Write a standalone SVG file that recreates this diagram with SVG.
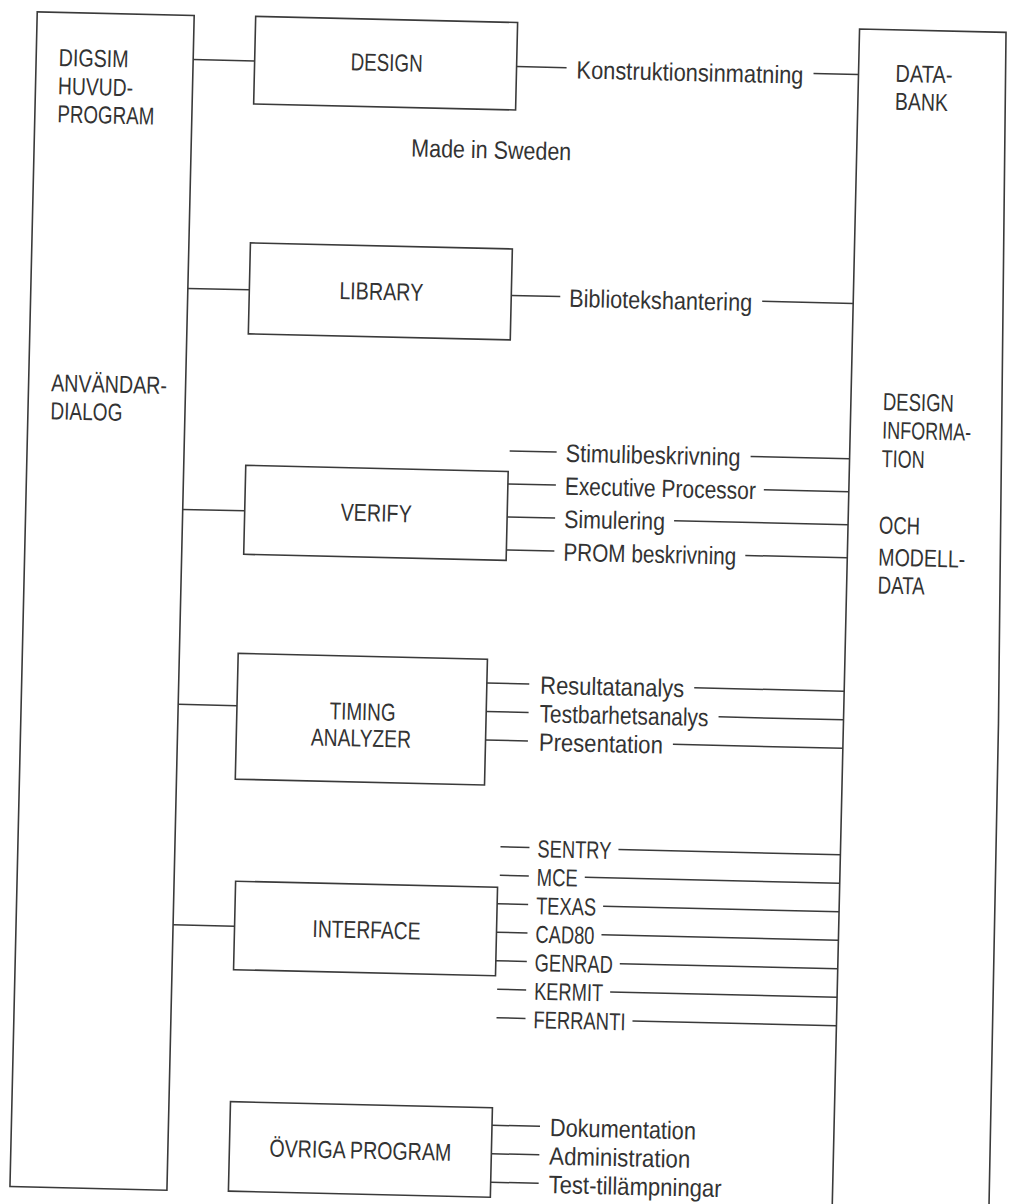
<svg xmlns="http://www.w3.org/2000/svg" width="1010" height="1204" viewBox="0 0 1010 1204">
<style>
.box{fill:none;stroke:#3a3a3a;stroke-width:1.6}
.ln{fill:none;stroke:#3a3a3a;stroke-width:1.5}
.t{font-family:'Liberation Sans Narrow','Liberation Sans',Arial,sans-serif;font-size:25px;fill:#333}
.u{font-size:24.5px}
.c{text-anchor:middle}
</style>
<rect width="1010" height="1204" fill="#fff"/>
<g transform="rotate(1.33)">
<g id="huvudprogram">
<rect class="box" x="37.5" y="11" width="157" height="1175"/>
<text class="t u" x="60" y="64.5" textLength="70" lengthAdjust="spacingAndGlyphs">DIGSIM</text>
<text class="t u" x="60" y="93" textLength="75" lengthAdjust="spacingAndGlyphs">HUVUD-</text>
<text class="t u" x="60" y="121" textLength="97" lengthAdjust="spacingAndGlyphs">PROGRAM</text>
<text class="t u" x="60" y="390" textLength="116" lengthAdjust="spacingAndGlyphs">ANVÄNDAR-</text>
<text class="t u" x="60" y="418" textLength="72" lengthAdjust="spacingAndGlyphs">DIALOG</text>
</g>
<g id="design">
<rect class="box" x="256" y="10.5" width="262" height="87.5"/>
<text class="t u c" x="388" y="62" textLength="72" lengthAdjust="spacingAndGlyphs">DESIGN</text>
</g>
<g id="library">
<rect class="box" x="256" y="237" width="262" height="91"/>
<text class="t u c" x="388" y="291" textLength="84" lengthAdjust="spacingAndGlyphs">LIBRARY</text>
</g>
<g id="verify">
<rect class="box" x="256.5" y="459.5" width="262.5" height="89"/>
<text class="t u c" x="388" y="512.5" textLength="71" lengthAdjust="spacingAndGlyphs">VERIFY</text>
</g>
<g id="timing">
<rect class="box" x="253.3" y="647.7" width="249.3" height="125.8"/>
<text class="t u c" x="379" y="711.5" textLength="66" lengthAdjust="spacingAndGlyphs">TIMING</text>
<text class="t u c" x="378" y="738" textLength="100" lengthAdjust="spacingAndGlyphs">ANALYZER</text>
</g>
<g id="interface">
<rect class="box" x="256" y="875.5" width="262" height="88.5"/>
<text class="t u c" x="388" y="929.5" textLength="108" lengthAdjust="spacingAndGlyphs">INTERFACE</text>
</g>
<g id="ovriga">
<rect class="box" x="256" y="1096" width="262" height="89.5"/>
<text class="t u c" x="387" y="1150" textLength="182" lengthAdjust="spacingAndGlyphs">ÖVRIGA PROGRAM</text>
</g>
<g id="databank">
<polygon class="box" points="860,1260 860,9 1006.5,9 1015,700 1017,1260"/>
<text class="t u" x="897" y="61" textLength="57" lengthAdjust="spacingAndGlyphs">DATA-</text>
<text class="t u" x="897" y="89" textLength="53" lengthAdjust="spacingAndGlyphs">BANK</text>
<text class="t u" x="892" y="389.5" textLength="71" lengthAdjust="spacingAndGlyphs">DESIGN</text>
<text class="t u" x="892" y="418" textLength="89" lengthAdjust="spacingAndGlyphs">INFORMA-</text>
<text class="t u" x="892" y="446.5" textLength="43" lengthAdjust="spacingAndGlyphs">TION</text>
<text class="t u" x="891" y="513" textLength="41" lengthAdjust="spacingAndGlyphs">OCH</text>
<text class="t u" x="891" y="545" textLength="87" lengthAdjust="spacingAndGlyphs">MODELL-</text>
<text class="t u" x="891" y="573" textLength="47" lengthAdjust="spacingAndGlyphs">DATA</text>
</g>
<g id="note">
<text class="t" x="414.6" y="147" textLength="160" lengthAdjust="spacingAndGlyphs">Made in Sweden</text>
</g>
<g id="connectors">
<path class="ln" d="M194.5,55H256 M194.5,284H256 M194.5,505H256.5 M194.5,700H253.3 M194.5,920.5H256"/>
<path class="ln" d="M518,54.5H568 M815,54.5H860"/>
<path class="ln" d="M518,283.5H567 M769,283.5H860"/>
<path class="ln" d="M520,439H567 M761,439H860"/>
<path class="ln" d="M519,472H567 M775,472H860"/>
<path class="ln" d="M519,505H567 M686,505H860"/>
<path class="ln" d="M519,538H567 M758,538H860"/>
<path class="ln" d="M502.6,671.5H545 M710,671.5H860"/>
<path class="ln" d="M502.6,700H545 M735,700H860"/>
<path class="ln" d="M502.6,728.5H545 M690,728.5H860"/>
<path class="ln" d="M520,835H549 M638,835H860"/>
<path class="ln" d="M520,863.5H549 M605,863.5H860"/>
<path class="ln" d="M518,892H549 M624,892H860"/>
<path class="ln" d="M518,920.5H549 M623,920.5H860"/>
<path class="ln" d="M518,949H549 M642,949H860"/>
<path class="ln" d="M520,977.5H549 M633,977.5H860"/>
<path class="ln" d="M520,1006H549 M656,1006H860"/>
<path class="ln" d="M518,1113.5H566 M518,1142H566 M518,1170.5H566"/>
</g>
<g id="labels">
<text class="t" x="578" y="65" textLength="227" lengthAdjust="spacingAndGlyphs">Konstruktionsinmatning</text>
<text class="t" x="576" y="293.5" textLength="183" lengthAdjust="spacingAndGlyphs">Bibliotekshantering</text>
<text class="t" x="576" y="448.5" textLength="175" lengthAdjust="spacingAndGlyphs">Stimulibeskrivning</text>
<text class="t" x="576" y="481.5" textLength="191" lengthAdjust="spacingAndGlyphs">Executive Processor</text>
<text class="t" x="576" y="514.5" textLength="101" lengthAdjust="spacingAndGlyphs">Simulering</text>
<text class="t" x="576" y="547.5" textLength="173" lengthAdjust="spacingAndGlyphs">PROM beskrivning</text>
<text class="t" x="556" y="681" textLength="144" lengthAdjust="spacingAndGlyphs">Resultatanalys</text>
<text class="t" x="556" y="709.5" textLength="169" lengthAdjust="spacingAndGlyphs">Testbarhetsanalys</text>
<text class="t" x="556" y="738" textLength="124" lengthAdjust="spacingAndGlyphs">Presentation</text>
<text class="t u" x="557" y="844.5" textLength="74" lengthAdjust="spacingAndGlyphs">SENTRY</text>
<text class="t u" x="557" y="873" textLength="41" lengthAdjust="spacingAndGlyphs">MCE</text>
<text class="t u" x="557" y="901.5" textLength="60" lengthAdjust="spacingAndGlyphs">TEXAS</text>
<text class="t u" x="557" y="930" textLength="59" lengthAdjust="spacingAndGlyphs">CAD80</text>
<text class="t u" x="557" y="958.5" textLength="78" lengthAdjust="spacingAndGlyphs">GENRAD</text>
<text class="t u" x="557" y="987" textLength="69" lengthAdjust="spacingAndGlyphs">KERMIT</text>
<text class="t u" x="557" y="1015.5" textLength="92" lengthAdjust="spacingAndGlyphs">FERRANTI</text>
<text class="t" x="576" y="1123" textLength="146" lengthAdjust="spacingAndGlyphs">Dokumentation</text>
<text class="t" x="576" y="1151.5" textLength="141" lengthAdjust="spacingAndGlyphs">Administration</text>
<text class="t" x="576" y="1180" textLength="173" lengthAdjust="spacingAndGlyphs">Test-tillämpningar</text>
</g>
</g>
</svg>
